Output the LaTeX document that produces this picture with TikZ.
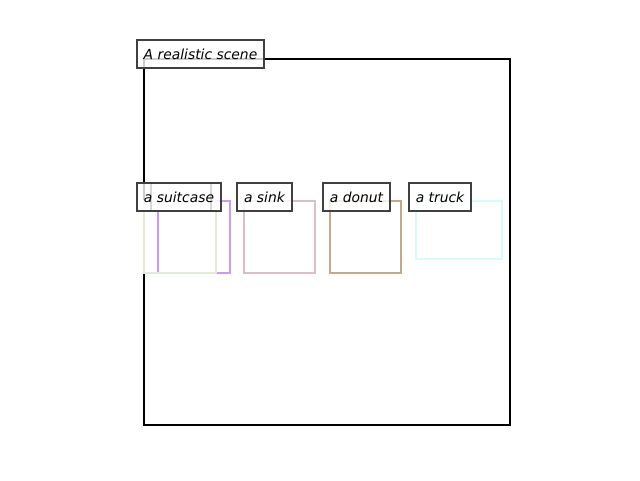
\documentclass[tikz,border=0pt]{standalone}
\usepackage{fontspec}
\setmainfont{DejaVu Sans}
\definecolor{cpurple}{HTML}{C89BFA}
\definecolor{cgreen}{HTML}{E4EAD8}
\definecolor{csink}{HTML}{DBBFC8}
\definecolor{cdonut}{HTML}{C4A888}
\definecolor{ctruck}{HTML}{D8FAFA}
\definecolor{cedge}{HTML}{404040}
\begin{document}
\begin{tikzpicture}[x=0.75pt,y=-0.75pt,
  objbox/.style={line width=1.5pt},
  lab/.style={draw=cedge,line width=0.9pt,fill=white,fill opacity=0.8,text opacity=1,
    inner sep=0pt,minimum height=21pt,font=\fontsize{10.4}{12}\selectfont\itshape}]
\useasboundingbox (0,0) rectangle (640,480);
\draw[line width=1.5pt] (144,59) rectangle (510,425);
\draw[objbox,cpurple] (158,201) rectangle (230,273);
\draw[objbox,cgreen] (144,201) rectangle (216,273);
\draw[objbox,csink] (244,201) rectangle (315,273);
\draw[objbox,cdonut] (330,201) rectangle (401,273);
\draw[objbox,ctruck] (416,201) rectangle (502,259);
\node[lab,minimum width=95.25pt] (title) at (200.5,54) {A realistic scene};
\node[lab,minimum width=45pt] (hidden) at (181,197) {};
\node[lab,minimum width=63pt] (suitcase) at (179,197) {a suitcase};
\node[lab,minimum width=41.25pt] (sink) at (264.5,197) {a sink};
\node[lab,minimum width=50.25pt] (donut) at (356.5,197) {a donut};
\node[lab,minimum width=46.5pt] (truck) at (440,197) {a truck};
\end{tikzpicture}
\end{document}
